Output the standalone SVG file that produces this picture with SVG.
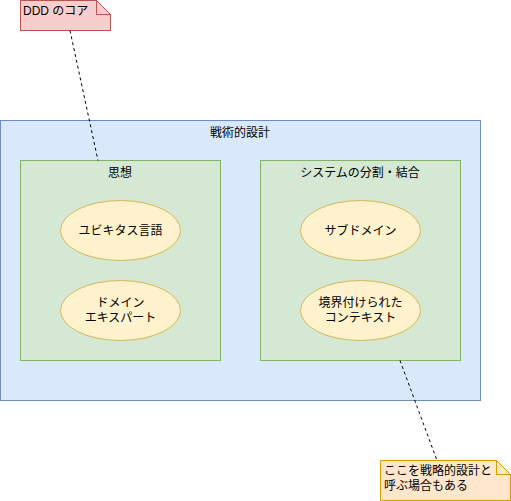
<svg xmlns="http://www.w3.org/2000/svg" width="511" height="501" viewBox="0 0 511 501">
<style>
text{font-family:"Liberation Sans","Noto Sans CJK JP",sans-serif;font-size:12px;fill:#000}
.c{text-anchor:middle}
.grp{fill:#d5e8d4;stroke:#82b366}
.el{fill:#fff2cc;stroke:#d6b656}
.conn{stroke:#000;fill:none;stroke-dasharray:3 3}
</style>
<rect width="511" height="501" fill="#fff"/>
<g id="tactical">
<rect x="0.5" y="120.5" width="480" height="280" fill="#dae8fc" stroke="#6c8ebf"/>
<text class="c" x="240" y="137">戦術的設計</text>
</g>
<g id="shisou">
<rect class="grp" x="20.5" y="160.5" width="200" height="200"/>
<text class="c" x="120" y="177">思想</text>
</g>
<g id="system">
<rect class="grp" x="260.5" y="160.5" width="200" height="200"/>
<text class="c" x="360" y="177">システムの分割・結合</text>
</g>
<g id="ubiq">
<ellipse class="el" cx="120.5" cy="230.5" rx="60" ry="30"/>
<text class="c" x="120.5" y="235">ユビキタス言語</text>
</g>
<g id="expert">
<ellipse class="el" cx="120.5" cy="310.5" rx="60" ry="30"/>
<text class="c" x="120.5" y="307">ドメイン</text>
<text class="c" x="120.5" y="322">エキスパート</text>
</g>
<g id="subdomain">
<ellipse class="el" cx="360.5" cy="230.5" rx="60" ry="30"/>
<text class="c" x="360.5" y="235">サブドメイン</text>
</g>
<g id="bc">
<ellipse class="el" cx="360.5" cy="310.5" rx="60" ry="30"/>
<text class="c" x="360.5" y="307">境界付けられた</text>
<text class="c" x="360.5" y="322">コンテキスト</text>
</g>
<g id="note-core">
<path d="M20.5 0.5H96.5L110.5 14.5V30.5H20.5Z" fill="#f8cecc" stroke="#b85450"/>
<path d="M96.5 0.5V14.5H110.5" fill="none" stroke="#b85450"/>
<text x="23" y="15">DDD のコア</text>
</g>
<g id="note-strategic">
<path d="M380.5 460.5H496.5L510.5 474.5V500.5H380.5Z" fill="#ffe6cc" stroke="#d79b00"/>
<path d="M496.5 460.5V474.5H510.5" fill="none" stroke="#d79b00"/>
<text x="384" y="475">ここを戦略的設計と</text>
<text x="384" y="490">呼ぶ場合もある</text>
</g>
<g id="connectors">
<path class="conn" d="M70 30.5L98 160.5"/>
<path class="conn" d="M400 360.5L437 460.5"/>
</g>
</svg>
